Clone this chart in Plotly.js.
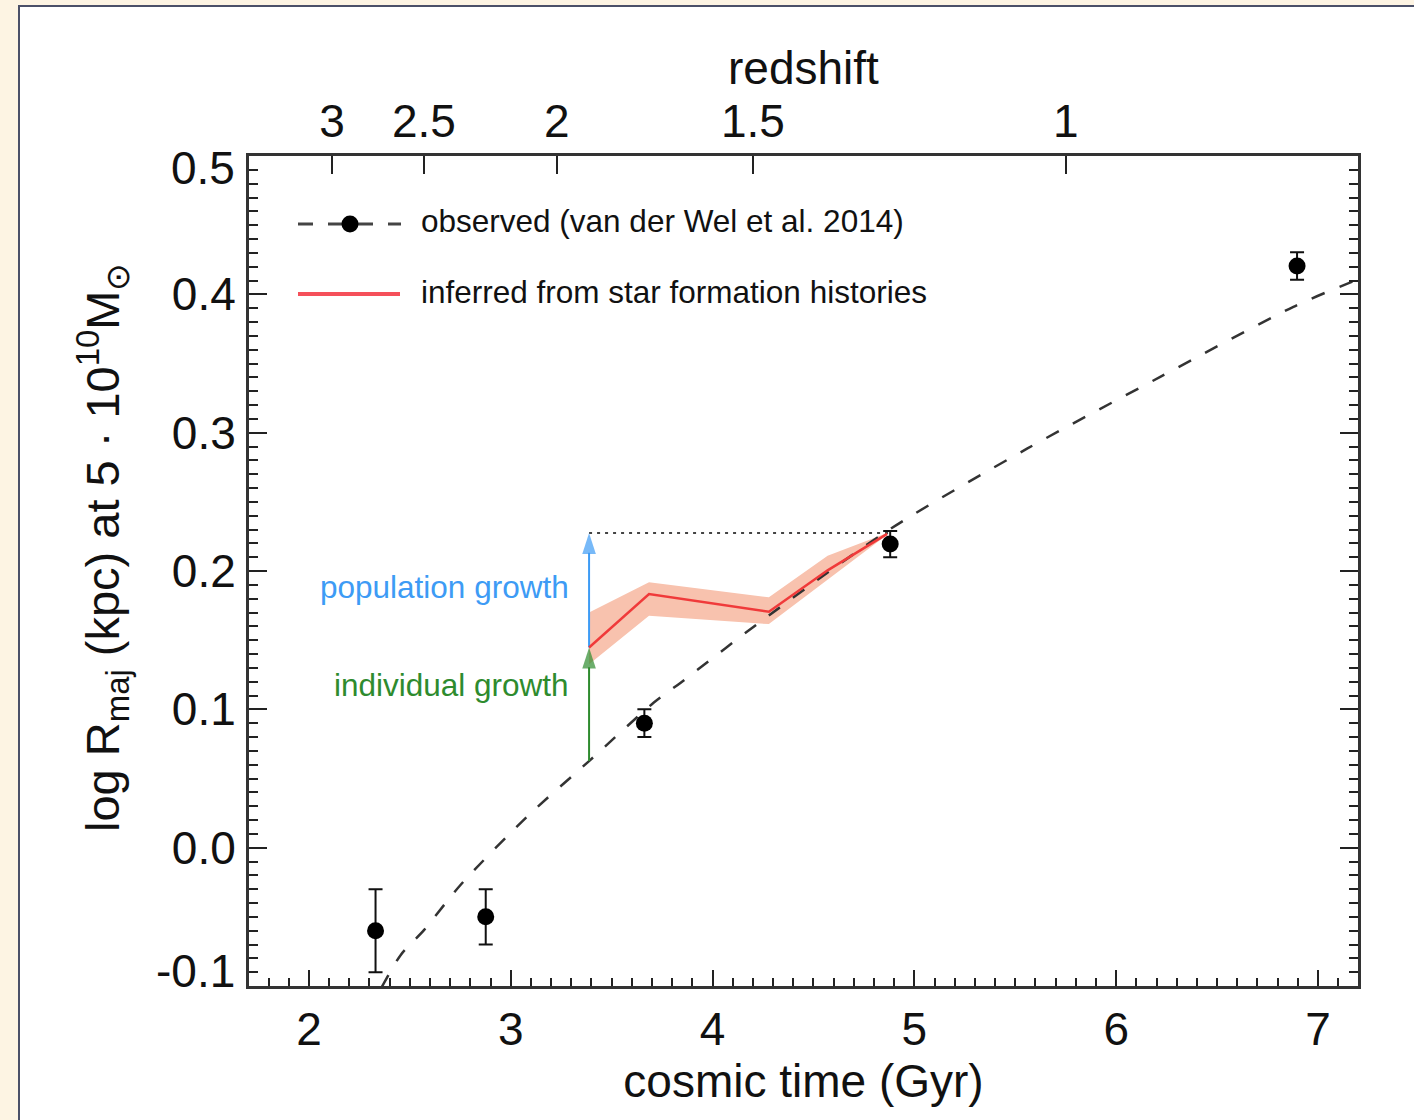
<!DOCTYPE html>
<html>
<head>
<meta charset="utf-8">
<script src="https://cdn.plot.ly/plotly-3.0.1.min.js"></script>
<style>
  html, body { margin:0; padding:0; background:#fdf4e3; width:1414px; height:1120px; overflow:hidden; }
  #panel { position:absolute; left:18px; top:5px; width:1420px; height:1140px; border:2px solid #4b5068; background:#ffffff; }
  #chart { position:absolute; left:0; top:0; width:1394px; height:1113px; }
</style>
</head>
<body>
<div id="panel"><div id="chart"></div></div>
<script>
// ---- data ----
// observed sizes (van der Wel et al. 2014)
const obsTime = [2.33, 2.876, 3.662, 4.880, 6.896];
const obsLogR = [-0.060, -0.050, 0.090, 0.2195, 0.4205];
const obsErr  = [0.030, 0.020, 0.010, 0.0095, 0.010];

// dashed fit curve
const fitTime = [2.36, 2.455, 2.571, 2.752, 3.083, 3.388, 3.709, 3.842, 4.221, 4.881, 5.558, 6.218, 6.878, 7.20];
const fitLogR = [-0.101, -0.0775, -0.0594, -0.0268, 0.0227, 0.0626, 0.1049, 0.1193, 0.1616, 0.2304, 0.2884, 0.3403, 0.391, 0.411];

// inferred from star formation histories
const sfhTime  = [3.388, 3.685, 4.279, 4.570, 4.865];
const sfhLogR  = [0.1447, 0.1833, 0.1705, 0.2005, 0.2268];
const sfhUpper = [0.1700, 0.1918, 0.1810, 0.2111, 0.2275];
const sfhLower = [0.1326, 0.1676, 0.1616, 0.1937, 0.2262];

// growth arrows / reference level
const arrowTime = [3.388, 3.388];
const levelLine = { time: [3.388, 4.88], logR: [0.2275, 0.2275] };
const popGrowth = [0.1447, 0.2275];
const indGrowth = [0.0626, 0.1447];

// redshift axis (cosmic time positions of redshift ticks)
const zTickTime = [2.114, 2.570, 3.228, 4.200, 5.750];
const zTickText = ['3', '2.5', '2', '1.5', '1'];

// y tick labels (end labels drawn separately, nudged inward as in the reference)
const yTickVals = [0.0, 0.1, 0.2, 0.3, 0.4];
const yTickText = ['0.0', '0.1', '0.2', '0.3', '0.4'];
const yEndVals  = [0.5, -0.1];
const yEndText  = ['0.5', '-0.1'];

const legendLabels = ['observed (van der Wel et al. 2014)', 'inferred from star formation histories'];
const yTitle = 'log R<sub>maj</sub> (kpc) at 5 · 10<sup>10</sup>M<sub>⊙</sub>';
const x2Title = 'redshift';

// ---- styling ----
const FONT = 'Liberation Sans, Arial, Helvetica, sans-serif';
const INK = '#111111';
const RED = '#f03a3a';
const BAND = '#f8c2ae';
const BLUE = '#3d9bf5';
const GREEN = '#2e8b2e';

const arrowTrace = (ys, color) => ({
  x: arrowTime, y: ys, mode: 'lines+markers',
  line: { color: color, width: 2 },
  marker: { symbol: 'arrow', angleref: 'previous', size: [0, 22], color: color, line: { width: 0 } },
  showlegend: false, hoverinfo: 'skip'
});

const traces = [
  { x: sfhTime, y: sfhLower, mode: 'lines', line: { width: 0, color: BAND }, hoverinfo: 'skip', showlegend: false },
  { x: sfhTime, y: sfhUpper, mode: 'lines', line: { width: 0, color: BAND }, fill: 'tonexty', fillcolor: BAND, hoverinfo: 'skip', showlegend: false },
  { x: fitTime, y: fitLogR, mode: 'lines', line: { color: '#333333', width: 2.5, dash: '14px,16px', shape: 'spline', smoothing: 0.8 }, showlegend: false },
  { x: levelLine.time, y: levelLine.logR, mode: 'lines', line: { color: '#444444', width: 2, dash: '3px,5px' }, showlegend: false },
  arrowTrace(popGrowth, BLUE),
  arrowTrace(indGrowth, GREEN),
  { x: sfhTime, y: sfhLogR, mode: 'lines', line: { color: RED, width: 2.5 }, showlegend: false },
  { x: obsTime, y: obsLogR, mode: 'markers', marker: { color: '#000000', size: 17 },
    error_y: { type: 'data', array: obsErr, visible: true, color: '#111111', thickness: 2, width: 7 }, showlegend: false },
  { x: [], y: [], xaxis: 'x2', mode: 'markers', showlegend: false, hoverinfo: 'skip' }
];

// legend / label geometry helpers (plot area: x 249..1358, y 156..986 in page px)
const PX0 = 249, PW = 1109, PY1 = 986, PH = 830;
const px = v => (v - PX0) / PW;
const py = v => (PY1 - v) / PH;

const shapes = [
  { type: 'line', xref: 'paper', yref: 'paper', x0: px(298), x1: px(401), y0: py(224), y1: py(224),
    line: { color: '#444444', width: 3, dash: '15px,15px' } },
  { type: 'circle', xref: 'paper', yref: 'paper', xsizemode: 'pixel', ysizemode: 'pixel',
    xanchor: px(350), yanchor: py(224), x0: -8.5, x1: 8.5, y0: -8.5, y1: 8.5,
    fillcolor: '#000000', line: { color: '#000000', width: 0 } },
  { type: 'line', xref: 'paper', yref: 'paper', x0: px(298), x1: px(400), y0: py(294), y1: py(294),
    line: { color: '#f5505a', width: 4 } }
];

const annotations = [
  { xref: 'paper', yref: 'paper', x: px(419), y: py(221), xanchor: 'left', yanchor: 'middle', showarrow: false,
    text: legendLabels[0], font: { family: FONT, size: 31.5, color: INK } },
  { xref: 'paper', yref: 'paper', x: px(419), y: py(292), xanchor: 'left', yanchor: 'middle', showarrow: false,
    text: legendLabels[1], font: { family: FONT, size: 31.5, color: INK } },
  { x: 3.30, y: 0.1885, xref: 'x', yref: 'y', xanchor: 'right', yanchor: 'middle', showarrow: false,
    text: 'population growth', font: { family: FONT, size: 31.5, color: BLUE } },
  { x: 3.30, y: 0.1175, xref: 'x', yref: 'y', xanchor: 'right', yanchor: 'middle', showarrow: false,
    text: 'individual growth', font: { family: FONT, size: 31.5, color: GREEN } },
  // end tick labels of the y axis, nudged inward
  { xref: 'paper', yref: 'y', x: 0, y: yEndVals[0], xanchor: 'right', yanchor: 'middle', xshift: -12, yshift: -12,
    showarrow: false, text: yEndText[0], font: { family: FONT, size: 46, color: INK } },
  { xref: 'paper', yref: 'y', x: 0, y: yEndVals[1], xanchor: 'right', yanchor: 'middle', xshift: -12, yshift: 15,
    showarrow: false, text: yEndText[1], font: { family: FONT, size: 46, color: INK } },
  // axis titles placed as in the reference
  { xref: 'paper', yref: 'paper', x: px(803), y: py(68), xanchor: 'center', yanchor: 'middle', showarrow: false,
    text: x2Title, font: { family: FONT, size: 46, color: INK } },
  { xref: 'paper', yref: 'paper', x: px(102), y: py(548), xanchor: 'center', yanchor: 'middle', showarrow: false,
    textangle: -90, text: yTitle, font: { family: FONT, size: 47, color: INK } }
];

const layout = {
  width: 1394, height: 1113,
  margin: { l: 229, r: 56, t: 149, b: 134 },
  paper_bgcolor: '#ffffff', plot_bgcolor: '#ffffff',
  font: { family: FONT, color: INK, size: 46 },
  showlegend: false,
  xaxis: {
    range: [1.703, 7.198], tickmode: 'linear', tick0: 0, dtick: 1,
    ticks: 'inside', ticklen: 16, tickwidth: 2, tickcolor: '#222222',
    minor: { dtick: 0.1, tick0: 0, ticks: 'inside', ticklen: 8, tickwidth: 2, tickcolor: '#222222', showgrid: false },
    showline: true, linewidth: 3, linecolor: '#333333', mirror: true,
    showgrid: false, zeroline: false,
    tickfont: { family: FONT, size: 46, color: INK }, ticklabelstandoff: 1,
    title: { text: 'cosmic time (Gyr)', font: { family: FONT, size: 46, color: INK }, standoff: 5 }
  },
  xaxis2: {
    overlaying: 'x', side: 'top', range: [1.703, 7.198], anchor: 'y',
    tickmode: 'array', tickvals: zTickTime, ticktext: zTickText,
    ticks: 'inside', ticklen: 18, tickwidth: 2, tickcolor: '#222222',
    showline: false, showgrid: false, zeroline: false,
    tickfont: { family: FONT, size: 46, color: INK }, ticklabelstandoff: 9
  },
  yaxis: {
    range: [-0.1, 0.5], tickmode: 'array', tickvals: yTickVals, ticktext: yTickText,
    ticks: 'inside', ticklen: 18, tickwidth: 2, tickcolor: '#222222',
    minor: { dtick: 0.01, tick0: 0, ticks: 'inside', ticklen: 9, tickwidth: 2, tickcolor: '#222222', showgrid: false },
    showline: true, linewidth: 3, linecolor: '#333333', mirror: 'ticks',
    showgrid: false, zeroline: false,
    tickfont: { family: FONT, size: 46, color: INK }, ticklabelstandoff: 1
  },
  shapes: shapes,
  annotations: annotations
};

Plotly.newPlot('chart', traces, layout, { staticPlot: true, displayModeBar: false });
</script>
</body>
</html>
